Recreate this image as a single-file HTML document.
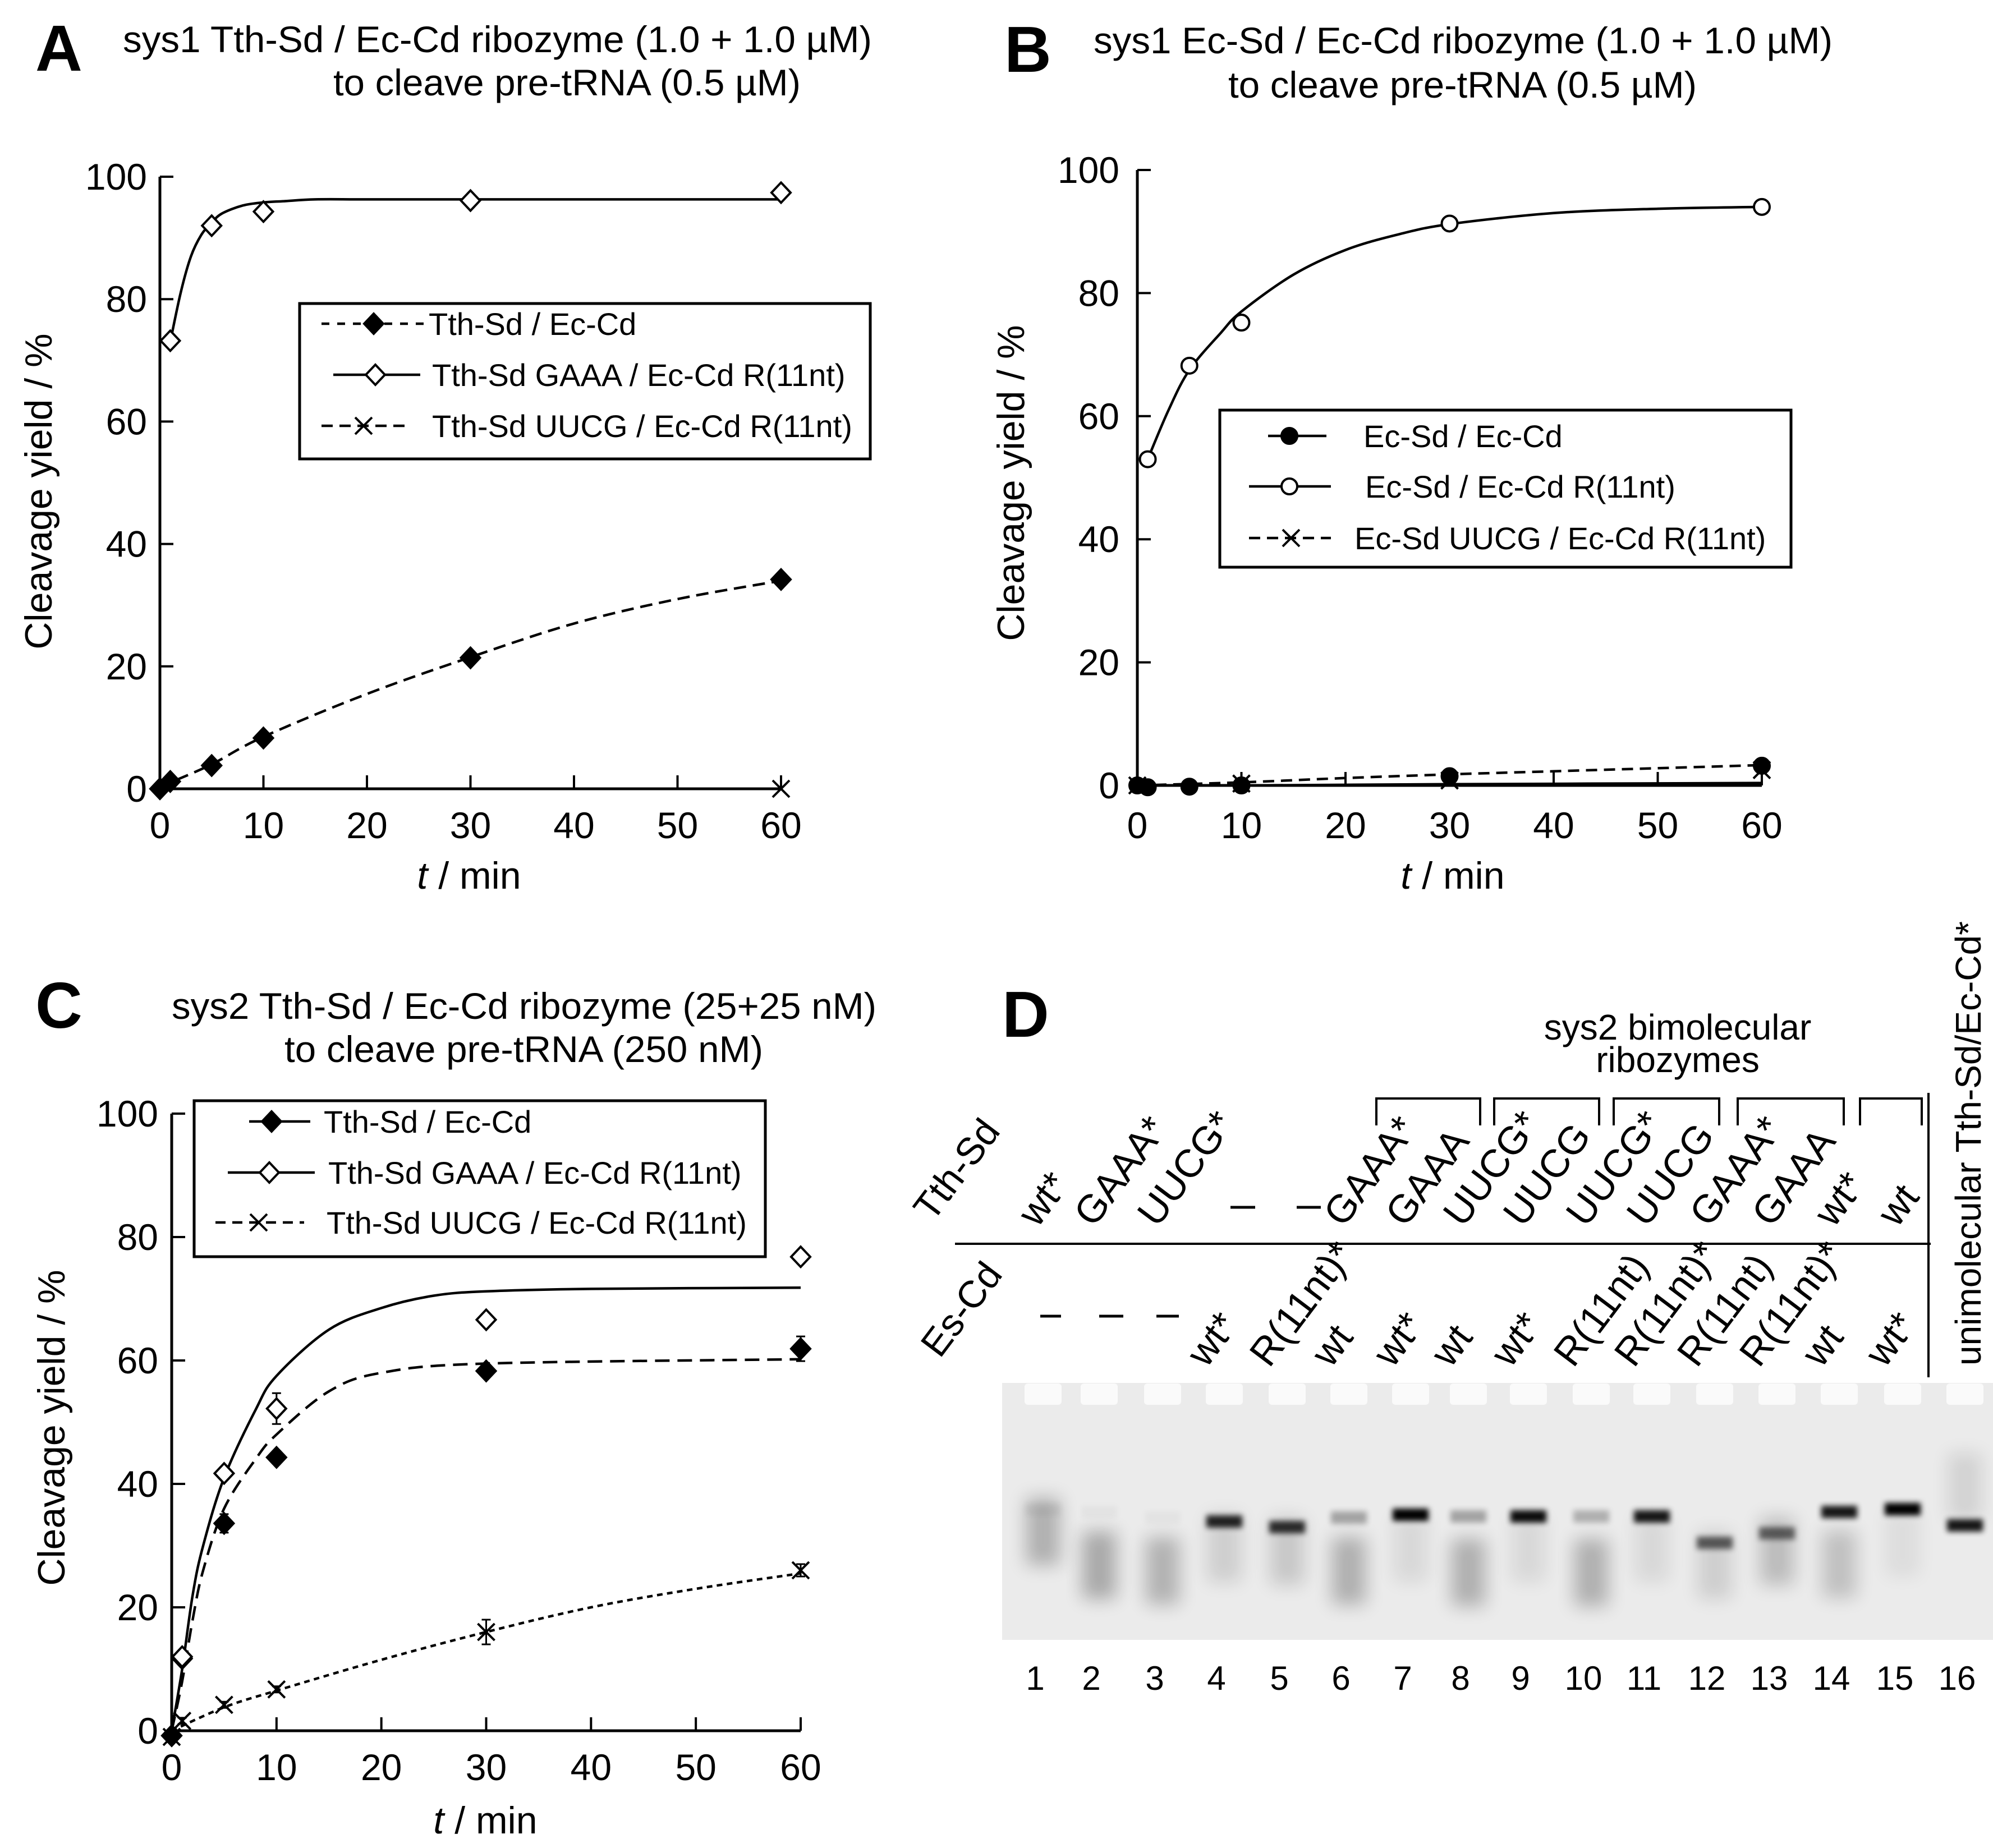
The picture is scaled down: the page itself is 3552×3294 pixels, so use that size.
<!DOCTYPE html>
<html><head><meta charset="utf-8"><style>
html,body{margin:0;padding:0;background:#fff}
svg{display:block}
text{font-family:"Liberation Sans",Arial,sans-serif;fill:#000}
</style></head><body>
<svg id="fig" width="3552" height="3294" viewBox="0 0 3552 3294" xmlns="http://www.w3.org/2000/svg">
<defs>
<filter id="blur6" x="-50%" y="-50%" width="200%" height="200%"><feGaussianBlur stdDeviation="5"/></filter>
<filter id="blur18" x="-50%" y="-50%" width="200%" height="200%"><feGaussianBlur stdDeviation="16"/></filter>
</defs>
<g id="panelA"></g>
<g id="panelB"></g>
<g id="panelC"></g>
<g id="panelD"></g>
</svg>
<script>
// ---------- Panel A data ----------
const aTth_t = [0, 1, 5, 10, 30, 60];
const aTth_y = [0, 1.2, 3.8, 8.3, 21.4, 34.2];
const aTthFit_t = [0, 1, 5, 10, 20, 30, 40, 50, 60];
const aTthFit_y = [0, 1, 4, 8.5, 15.5, 21.5, 27, 31, 34];
const aGaaa_t = [1, 5, 10, 30, 60];
const aGaaa_y = [73.2, 92, 94.3, 96.1, 97.4];
const aGaaaFit_t = [1, 2, 3, 4, 5, 6, 8, 10, 12, 15, 20, 30, 45, 60];
const aGaaaFit_y = [73, 81, 87, 90.5, 92.5, 94, 95.3, 95.8, 96, 96.3, 96.3, 96.3, 96.3, 96.3];
const aUucg_t = [60];
const aUucg_y = [0];
// ---------- Panel B data ----------
const bEc_t = [0, 1, 5, 10, 30, 60];
const bEc_y = [0, -0.3, -0.2, 0, 1.5, 3.2];
const bEcFit_t = [0, 10, 30, 60];
const bEcFit_y = [0, 0, 0.2, 0.4];
const bR11_t = [1, 5, 10, 30, 60];
const bR11_y = [53, 68.2, 75.2, 91.3, 94];
const bR11Fit_t = [1, 3, 5, 8, 10, 15, 20, 25, 30, 40, 50, 60];
const bR11Fit_y = [53, 61, 67.5, 73.5, 77, 83, 87, 89.5, 91.2, 93, 93.7, 94];
const bUucg_t = [0, 10, 30, 60];
const bUucg_y = [0, 0.3, 0.8, 2.5];
const bUucgFit_t = [0, 10, 20, 30, 40, 50, 60];
const bUucgFit_y = [0, 0.5, 1.2, 1.8, 2.3, 2.8, 3.3];
// ---------- Panel C data ----------
const cTth_t = [0, 1, 5, 10, 30, 60];
const cTth_y = [-0.8, 11.7, 33.6, 44.3, 58.3, 61.9];
const cTth_err = [0.5, 1, 1.5, 1, 1, 2];
const cTthFit_t = [0, 1, 2, 3, 5, 8, 10, 15, 20, 30, 60];
const cTthFit_y = [0, 8, 18, 26, 36, 44, 48, 55, 58, 59.5, 60.2];
const cGaaa_t = [1, 5, 10, 30, 60];
const cGaaa_y = [12, 41.7, 52.2, 66.6, 76.8];
const cGaaa_err = [1, 1, 2.5, 1, 1];
const cGaaaFit_t = [0, 1, 2, 3, 5, 8, 10, 15, 20, 25, 30, 40, 60];
const cGaaaFit_y = [0, 10, 22, 30, 41, 52, 57.5, 65, 68.5, 70.5, 71.2, 71.6, 71.8];
const cUucg_t = [0, 1, 5, 10, 30, 60];
const cUucg_y = [-1, 1.6, 4.2, 6.7, 16, 26];
const cUucg_err = [0.5, 0.5, 0.5, 0.5, 2, 1];
const cUucgFit_t = [0, 5, 10, 20, 30, 40, 50, 60];
const cUucgFit_y = [0, 3.8, 6.5, 11.5, 16, 20, 23, 25.5];
const xTicks = [0, 10, 20, 30, 40, 50, 60];
const yTicks = [0, 20, 40, 60, 80, 100];
// ---------- Panel D data ----------
const laneNumbers = ["1","2","3","4","5","6","7","8","9","10","11","12","13","14","15","16"];
const tthLabels = ["wt*","GAAA*","UUCG*","","","GAAA*","GAAA","UUCG*","UUCG","UUCG*","UUCG","GAAA*","GAAA","wt*","wt",""];
const esLabels = ["","","","wt*","R(11nt)*","wt","wt*","wt","wt*","R(11nt)","R(11nt)*","R(11nt)","R(11nt)*","wt","wt*",""];
const bandMainY = [2690, 2695, 2705, 2712, 2722, 2705, 2700, 2703, 2703, 2703, 2703, 2750, 2733, 2695, 2690, 2719];
const bandMainInt = [0.05, 0.03, 0.03, 0.85, 0.8, 0.3, 1.0, 0.3, 0.95, 0.25, 0.9, 0.6, 0.55, 0.9, 1.0, 0.9];
const bandLowY = [2730, 2790, 2800, 2760, 2765, 2800, 2760, 2803, 2760, 2803, 2760, 2790, 2765, 2788, 2750, 2650];
const bandLowInt = [0.25, 0.28, 0.24, 0.12, 0.15, 0.25, 0.08, 0.25, 0.08, 0.25, 0.08, 0.12, 0.2, 0.18, 0.06, 0.1];

const NS = "http://www.w3.org/2000/svg";
function mk(parent, tag, attrs, txt) {
  const e = document.createElementNS(NS, tag);
  for (const k in attrs) e.setAttribute(k, attrs[k]);
  if (txt !== undefined) e.textContent = txt;
  parent.appendChild(e);
  return e;
}
function smoothPath(pts) {
  let d = "M" + pts[0][0].toFixed(1) + "," + pts[0][1].toFixed(1);
  for (let i = 0; i < pts.length - 1; i++) {
    const p0 = pts[i - 1] || pts[i], p1 = pts[i], p2 = pts[i + 1], p3 = pts[i + 2] || p2;
    const c1x = p1[0] + (p2[0] - p0[0]) / 6, c1y = p1[1] + (p2[1] - p0[1]) / 6;
    const c2x = p2[0] - (p3[0] - p1[0]) / 6, c2y = p2[1] - (p3[1] - p1[1]) / 6;
    d += " C" + c1x.toFixed(1) + "," + c1y.toFixed(1) + " " + c2x.toFixed(1) + "," + c2y.toFixed(1) + " " + p2[0].toFixed(1) + "," + p2[1].toFixed(1);
  }
  return d;
}
function marker(g, type, cx, cy, name) {
  let e;
  if (type === "fdia" || type === "odia") {
    const h = 18, w = 17;
    e = mk(g, "path", {d: `M${cx},${cy - h} L${cx + w},${cy} L${cx},${cy + h} L${cx - w},${cy} Z`,
      fill: type === "fdia" ? "#000" : "#fff", stroke: "#000", "stroke-width": 4});
  } else if (type === "fcir" || type === "ocir") {
    e = mk(g, "circle", {cx: cx, cy: cy, r: 14, fill: type === "fcir" ? "#000" : "#fff", stroke: "#000", "stroke-width": 4});
  } else {
    const s = 15;
    e = mk(g, "path", {d: `M${cx - s},${cy - s} L${cx + s},${cy + s} M${cx - s},${cy + s} L${cx + s},${cy - s}`, stroke: "#000", "stroke-width": 4, fill: "none"});
  }
  
  
  return e;
}
function chart(g, c) {
  const X = t => c.x0 + (c.x60 - c.x0) * t / 60;
  const Y = v => c.y0 - (c.y0 - c.y100) * v / 100;
  const ax = mk(g, "path", {d: `M${X(0)},${Y(100)} L${X(0)},${Y(0)} L${X(60)},${Y(0)}`, fill: "none", stroke: "#000", "stroke-width": 5});
  
  
  xTicks.forEach(t => {
    const tk = mk(g, "line", {x1: X(t), x2: X(t), y1: Y(0), y2: Y(0) - 24, stroke: "#000", "stroke-width": 4});
    
    
    const lb = mk(g, "text", {x: X(t), y: c.xLabY, "font-size": 66, "text-anchor": "middle"}, String(t));
    
    
  });
  yTicks.forEach(v => {
    const tk = mk(g, "line", {x1: X(0), x2: X(0) + 24, y1: Y(v), y2: Y(v), stroke: "#000", "stroke-width": 4});
    
    
    const lb = mk(g, "text", {x: c.yLabX, y: Y(v) + 23, "font-size": 66, "text-anchor": "end"}, String(v));
    
    
  });
  const xt = mk(g, "text", {x: c.xTitleX, y: c.xTitleY, "font-size": 68, "text-anchor": "middle"});
  
  
  mk(xt, "tspan", {"font-style": "italic"}, "t");
  mk(xt, "tspan", {}, " / min");
  const yt = mk(g, "text", {x: 0, y: 0, "font-size": 68, "text-anchor": "middle", transform: `translate(${c.yTitleX},${c.yTitleY}) rotate(-90)`}, "Cleavage yield / %");
  
  
  c.series.forEach(s => {
    if (s.ft) {
      const pts = s.ft.map((t, i) => [X(t), Y(s.fy[i])]);
      const p = mk(g, "path", {d: smoothPath(pts), fill: "none", stroke: "#000", "stroke-width": 4.5, "stroke-dasharray": s.dash || "none"});
      
      
    }
    s.t.forEach((t, i) => {
      if (s.err) {
        const e = s.err[i];
        const eb = mk(g, "path", {d: `M${X(t)},${Y(s.y[i] + e)} L${X(t)},${Y(s.y[i] - e)} M${X(t) - 8},${Y(s.y[i] + e)} L${X(t) + 8},${Y(s.y[i] + e)} M${X(t) - 8},${Y(s.y[i] - e)} L${X(t) + 8},${Y(s.y[i] - e)}`, stroke: "#000", "stroke-width": 3, fill: "none"});
        
        
      }
      marker(g, s.mk, X(t), Y(s.y[i]), s.name + '-point');
    });
  });
  const L = c.legend;
  const lg = mk(g, "g", {});
  
  
  mk(lg, "rect", {x: L.x, y: L.y, width: L.w, height: L.h, fill: "#fff", stroke: "#000", "stroke-width": 5});
  L.rows.forEach(r => {
    const eg = mk(lg, "g", {});
    
    
    mk(eg, "line", {x1: r.l1, x2: r.l2, y1: r.y - 20, y2: r.y - 20, stroke: "#000", "stroke-width": 4.5, "stroke-dasharray": r.dash || "none"});
    marker(eg, r.mk, r.mx, r.y - 20, 'legend-marker');
    mk(eg, "text", {x: r.tx, y: r.y, "font-size": 56}, r.label);
  });
}
function title(g, letter, lx, ly, l1, l1x, l1w, l1y, l2, l2x, l2w, l2y) {
  const a = mk(g, "text", {x: lx, y: ly, "font-size": 116, "font-weight": "bold"}, letter);
  
  
  const t1 = mk(g, "text", {x: l1x, y: l1y, "font-size": 66, textLength: l1w, lengthAdjust: "spacingAndGlyphs"}, l1);
  
  
  const t2 = mk(g, "text", {x: l2x, y: l2y, "font-size": 66, textLength: l2w, lengthAdjust: "spacingAndGlyphs"}, l2);
  
  
}

const gA = document.getElementById("panelA");
title(gA, "A", 63, 126, "sys1 Tth-Sd / Ec-Cd ribozyme (1.0 + 1.0 \u00b5M)", 219, 1335, 93, "to cleave pre-tRNA (0.5 \u00b5M)", 594, 833, 170);
chart(gA, {x0: 285, x60: 1392, y0: 1406, y100: 315, xLabY: 1494, yLabX: 262, xTitleX: 836, xTitleY: 1584, yTitleX: 92, yTitleY: 876,
  series: [
    {name: "tth-sd-ec-cd", t: aTth_t, y: aTth_y, ft: aTthFit_t, fy: aTthFit_y, mk: "fdia", dash: "22,12"},
    {name: "tth-sd-gaaa", t: aGaaa_t, y: aGaaa_y, ft: aGaaaFit_t, fy: aGaaaFit_y, mk: "odia"},
    {name: "tth-sd-uucg", t: aUucg_t, y: aUucg_y, mk: "x"}
  ],
  legend: {x: 534, y: 541, w: 1017, h: 277, rows: [
    {y: 597, l1: 573, l2: 755, mx: 666, mk: "fdia", dash: "14,14", tx: 764, label: "Tth-Sd / Ec-Cd"},
    {y: 688, l1: 594, l2: 749, mx: 669, mk: "odia", tx: 770, label: "Tth-Sd GAAA / Ec-Cd R(11nt)"},
    {y: 779, l1: 573, l2: 729, mx: 648, mk: "x", dash: "20,12", tx: 770, label: "Tth-Sd UUCG / Ec-Cd R(11nt)"}
  ]}
});

const gB = document.getElementById("panelB");
title(gB, "B", 1790, 128, "sys1 Ec-Sd / Ec-Cd ribozyme (1.0 + 1.0 \u00b5M)", 1949, 1317, 95, "to cleave pre-tRNA (0.5 \u00b5M)", 2189, 835, 174);
chart(gB, {x0: 2027, x60: 3140, y0: 1400, y100: 303, xLabY: 1494, yLabX: 1995, xTitleX: 2589, xTitleY: 1584, yTitleX: 1825, yTitleY: 861,
  series: [
    {name: "ec-sd-ec-cd", t: bEc_t, y: bEc_y, ft: bEcFit_t, fy: bEcFit_y, mk: "fcir"},
    {name: "ec-sd-r11nt", t: bR11_t, y: bR11_y, ft: bR11Fit_t, fy: bR11Fit_y, mk: "ocir"},
    {name: "ec-sd-uucg", t: bUucg_t, y: bUucg_y, ft: bUucgFit_t, fy: bUucgFit_y, mk: "x", dash: "20,12"}
  ],
  legend: {x: 2174, y: 731, w: 1018, h: 280, rows: [
    {y: 797, l1: 2260, l2: 2364, mx: 2298, mk: "fcir", tx: 2430, label: "Ec-Sd / Ec-Cd"},
    {y: 887, l1: 2226, l2: 2372, mx: 2298, mk: "ocir", tx: 2433, label: "Ec-Sd / Ec-Cd R(11nt)"},
    {y: 979, l1: 2226, l2: 2372, mx: 2301, mk: "x", dash: "20,12", tx: 2414, label: "Ec-Sd UUCG / Ec-Cd R(11nt)"}
  ]}
});

const gC = document.getElementById("panelC");
title(gC, "C", 63, 1832, "sys2 Tth-Sd / Ec-Cd ribozyme (25+25 nM)", 306, 1256, 1816, "to cleave pre-tRNA (250 nM)", 507, 853, 1893);
chart(gC, {x0: 306, x60: 1427, y0: 3085, y100: 1985, xLabY: 3173, yLabX: 282, xTitleX: 865, xTitleY: 3268, yTitleX: 115, yTitleY: 2545,
  series: [
    {name: "tth-sd-ec-cd", t: cTth_t, y: cTth_y, err: cTth_err, ft: cTthFit_t, fy: cTthFit_y, mk: "fdia", dash: "26,14"},
    {name: "tth-sd-gaaa", t: cGaaa_t, y: cGaaa_y, err: cGaaa_err, ft: cGaaaFit_t, fy: cGaaaFit_y, mk: "odia"},
    {name: "tth-sd-uucg", t: cUucg_t, y: cUucg_y, err: cUucg_err, ft: cUucgFit_t, fy: cUucgFit_y, mk: "x", dash: "10,8"}
  ],
  legend: {x: 346, y: 1962, w: 1018, h: 278, rows: [
    {y: 2019, l1: 444, l2: 553, mx: 484, mk: "fdia", tx: 577, label: "Tth-Sd / Ec-Cd"},
    {y: 2110, l1: 406, l2: 561, mx: 480, mk: "odia", tx: 585, label: "Tth-Sd GAAA / Ec-Cd R(11nt)"},
    {y: 2199, l1: 384, l2: 542, mx: 461, mk: "x", dash: "18,12", tx: 582, label: "Tth-Sd UUCG / Ec-Cd R(11nt)"}
  ]}
});

const gD = document.getElementById("panelD");
const laneX = [1845, 1945, 2058, 2168, 2280, 2390, 2500, 2603, 2710, 2822, 2930, 3042, 3153, 3264, 3377, 3488];
(function () {
  let e = mk(gD, "text", {x: 1786, y: 1848, "font-size": 116, "font-weight": "bold"}, "D");
  
  
  e = mk(gD, "text", {x: 2990, y: 1853, "font-size": 64, "text-anchor": "middle"}, "sys2 bimolecular");
  
  
  e = mk(gD, "text", {x: 2990, y: 1911, "font-size": 64, "text-anchor": "middle"}, "ribozymes");
  
  
  [[2453, 2638], [2663, 2850], [2876, 3064], [3097, 3286], [3315, 3425]].forEach(b => {
    const br = mk(gD, "path", {d: `M${b[0]},2006 L${b[0]},1958 L${b[1]},1958 L${b[1]},2006`, fill: "none", stroke: "#000", "stroke-width": 4});
    
    
  });
  e = mk(gD, "line", {x1: 1702, x2: 3441, y1: 2217, y2: 2217, stroke: "#000", "stroke-width": 4});
  
  
  e = mk(gD, "line", {x1: 3437, x2: 3437, y1: 1948, y2: 2455, stroke: "#000", "stroke-width": 4});
  
  
  e = mk(gD, "text", {x: 0, y: 0, "font-size": 64, transform: "translate(3530,2434) rotate(-90)"}, "unimolecular Tth-Sd/Ec-Cd*");
  
  
  e = mk(gD, "text", {x: 0, y: 0, "font-size": 68, transform: "translate(1662,2180) rotate(-53)"}, "Tth-Sd");
  
  
  e = mk(gD, "text", {x: 0, y: 0, "font-size": 68, transform: "translate(1675,2423) rotate(-53)"}, "Es-Cd");
  
  
  [[2193, 2237], [2311, 2354]].forEach(d => {
    const l = mk(gD, "line", {x1: d[0], x2: d[1], y1: 2152, y2: 2152, stroke: "#000", "stroke-width": 5});
    
    
  });
  [[1854, 1891], [1959, 2002], [2061, 2101]].forEach(d => {
    const l = mk(gD, "line", {x1: d[0], x2: d[1], y1: 2346, y2: 2346, stroke: "#000", "stroke-width": 5});
    
    
  });
  laneX.forEach((x, i) => {
    if (tthLabels[i]) {
      const t = mk(gD, "text", {x: 0, y: 0, "font-size": 70, transform: `translate(${x + 4},2190) rotate(-53)`}, tthLabels[i]);
      
      
    }
    if (esLabels[i]) {
      const t = mk(gD, "text", {x: 0, y: 0, "font-size": 70, transform: `translate(${x - 18},2440) rotate(-53)`}, esLabels[i]);
      
      
    }
    const n = mk(gD, "text", {x: x, y: 3012, "font-size": 60, "text-anchor": "middle"}, laneNumbers[i]);
    
    
  });
  const gel = mk(gD, "g", {});
  
  
  mk(gel, "rect", {x: 1786, y: 2465, width: 1766, height: 458, fill: "#ebebeb"});
  laneX.forEach((x0, i) => {
    const x = x0 + 14;
    const w = mk(gel, "rect", {x: x - 33, y: 2466, width: 66, height: 38, rx: 6, fill: "#fafafa"});
    
    
    const sm = mk(gel, "rect", {x: x - 30, y: bandLowY[i] - 60, width: 60, height: 120, fill: "#000", opacity: bandLowInt[i], filter: "url(#blur18)"});
    
    
    const b = mk(gel, "rect", {x: x - 32, y: bandMainY[i] - 11, width: 64, height: 22, fill: "#000", opacity: bandMainInt[i], filter: "url(#blur6)"});
    
    
  });
})();
</script>
</body></html>
